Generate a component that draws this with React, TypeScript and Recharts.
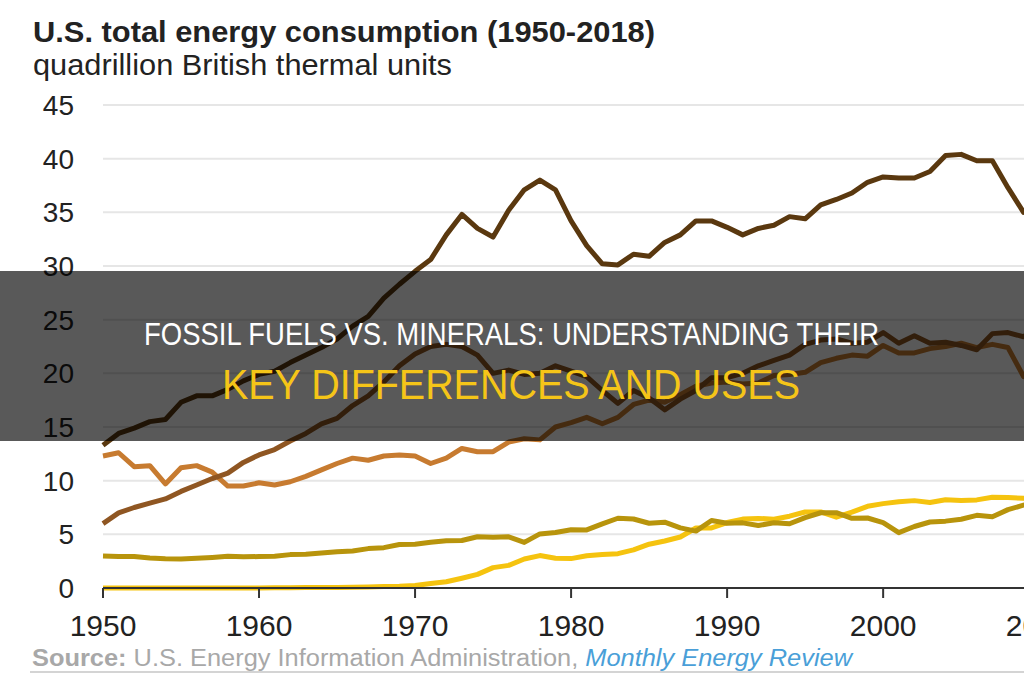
import React from 'react';
import { LineChart, Line, XAxis, YAxis, CartesianGrid } from 'recharts';

const years: number[] = Array.from({ length: 69 }, (_, i) => 1950 + i);

const petroleum = [
  13.3, 14.4, 14.9, 15.5, 15.7, 17.3, 17.9, 17.9, 18.5, 19.3,
  19.9, 20.2, 21.0, 21.7, 22.4, 23.2, 24.4, 25.3, 27.0, 28.3,
  29.5, 30.6, 32.9, 34.8, 33.5, 32.7, 35.2, 37.1, 38.0, 37.1,
  34.2, 31.9, 30.2, 30.1, 31.1, 30.9, 32.2, 32.9, 34.2, 34.2,
  33.6, 32.9, 33.5, 33.8, 34.6, 34.4, 35.7, 36.2, 36.8, 37.8,
  38.3, 38.2, 38.2, 38.8, 40.3, 40.4, 39.8, 39.8, 37.3, 35.0,
  36.0, 35.4, 34.7, 35.1, 35.4, 35.9, 36.2, 36.2, 36.9,
];

const naturalGas = [
  6.0, 7.0, 7.5, 7.9, 8.3, 9.0, 9.6, 10.2, 10.7, 11.7,
  12.4, 12.9, 13.7, 14.4, 15.3, 15.8, 17.0, 17.9, 19.2, 20.7,
  21.8, 22.5, 22.7, 22.5, 21.7, 20.0, 20.3, 19.9, 20.0, 20.7,
  20.2, 19.7, 18.4, 17.2, 18.4, 17.7, 16.6, 17.6, 18.4, 19.6,
  19.6, 20.0, 20.7, 21.2, 21.7, 22.7, 23.1, 23.2, 22.8, 22.9,
  23.8, 22.8, 23.5, 22.8, 22.9, 22.6, 22.2, 23.7, 23.8, 23.4,
  24.6, 24.9, 26.1, 26.8, 27.4, 28.2, 28.4, 28.0, 31.0,
];

const coal = [
  12.3, 12.6, 11.3, 11.4, 9.7, 11.2, 11.4, 10.8, 9.5, 9.5,
  9.8, 9.6, 9.9, 10.4, 11.0, 11.6, 12.1, 11.9, 12.3, 12.4,
  12.3, 11.6, 12.1, 13.0, 12.7, 12.7, 13.6, 13.9, 13.8, 15.0,
  15.4, 15.9, 15.3, 15.9, 17.1, 17.5, 17.3, 18.0, 18.8, 19.1,
  19.2, 19.0, 19.1, 19.8, 19.9, 20.1, 21.0, 21.4, 21.7, 21.6,
  22.6, 21.9, 21.9, 22.3, 22.5, 22.8, 22.4, 22.7, 22.4, 19.7,
  20.8, 19.7, 17.4, 18.0, 18.0, 15.5, 14.2, 13.8, 13.2,
];

const renewables = [
  2.98, 2.94, 2.94, 2.8, 2.73, 2.7, 2.77, 2.85, 2.95, 2.9,
  2.93, 2.95, 3.11, 3.14, 3.27, 3.38, 3.45, 3.67, 3.76, 4.05,
  4.08, 4.26, 4.4, 4.43, 4.77, 4.72, 4.77, 4.25, 5.04, 5.17,
  5.43, 5.41, 5.98, 6.5, 6.43, 6.03, 6.13, 5.6, 5.3, 6.29,
  6.04, 6.07, 5.82, 6.08, 5.99, 6.56, 7.01, 7.02, 6.49, 6.52,
  6.1, 5.16, 5.73, 6.15, 6.23, 6.41, 6.77, 6.64, 7.3, 7.72,
  8.1, 9.1, 8.8, 9.4, 9.7, 9.7, 10.4, 11.2, 11.5,
];

const nuclear = [
  0, 0, 0, 0, 0, 0, 0, 0, 0.002, 0.002,
  0.006, 0.02, 0.026, 0.038, 0.04, 0.043, 0.064, 0.088, 0.142, 0.154,
  0.24, 0.41, 0.58, 0.91, 1.27, 1.9, 2.11, 2.7, 3.02, 2.78,
  2.74, 3.01, 3.13, 3.2, 3.55, 4.08, 4.38, 4.75, 5.59, 5.6,
  6.1, 6.42, 6.48, 6.41, 6.69, 7.08, 7.09, 6.6, 7.07, 7.61,
  7.86, 8.03, 8.14, 7.96, 8.22, 8.16, 8.21, 8.46, 8.43, 8.36,
  8.43, 8.27, 8.06, 8.27, 8.34, 8.34, 8.43, 8.42, 8.44,
];

const xTicks = [1950, 1960, 1970, 1980, 1990, 2000, 2010];
const yTicks = [0, 5, 10, 15, 20, 25, 30, 35, 40, 45];

const titleText = 'U.S. total energy consumption (1950-2018)';
const subtitleText = 'quadrillion British thermal units';
const sourceLabel = 'Source:';
const sourceText = ' U.S. Energy Information Administration, ';
const sourceLink = 'Monthly Energy Review';
const bannerLine1 = 'FOSSIL FUELS VS. MINERALS: UNDERSTANDING THEIR';
const bannerLine2 = 'KEY DIFFERENCES AND USES';

const data = years.map((year, i) => ({
  year,
  petroleum: petroleum[i],
  naturalGas: naturalGas[i],
  coal: coal[i],
  renewables: renewables[i],
  nuclear: nuclear[i],
}));

const FONT = '"Liberation Sans", Arial, sans-serif';
const NARROW = '"Liberation Sans Narrow", "Liberation Sans", Arial, sans-serif';

export default function App() {
  return (
    <div
      style={{
        position: 'fixed',
        left: 0,
        top: 0,
        width: 1024,
        height: 680,
        overflow: 'hidden',
        background: '#ffffff',
        fontFamily: FONT,
      }}
    >
      <div style={{ position: 'absolute', left: 0, top: 0 }}>
        <LineChart
          width={1180}
          height={680}
          data={data}
          margin={{ top: 105, right: 16, bottom: 52, left: 0 }}
        >
          <CartesianGrid horizontal vertical={false} stroke="#e6e6e6" strokeWidth={2} />
          <XAxis
            dataKey="year"
            type="number"
            domain={[1950, 2018]}
            ticks={xTicks}
            height={40}
            tickSize={10}
            tickMargin={17}
            axisLine={{ stroke: '#333333', strokeWidth: 2 }}
            tickLine={{ stroke: '#333333', strokeWidth: 2 }}
            tick={{ fill: '#222222', fontSize: 30, fontFamily: FONT }}
            interval={0}
          />
          <YAxis
            type="number"
            domain={[0, 45]}
            ticks={yTicks}
            width={103}
            axisLine={false}
            tickLine={false}
            tickSize={0}
            tickMargin={29}
            tick={{ fill: '#222222', fontSize: 28, fontFamily: FONT }}
            interval={0}
          />
          <Line type="linear" dataKey="nuclear" stroke="#f5c30f" strokeWidth={5} dot={false} isAnimationActive={false} strokeLinejoin="round" />
          <Line type="linear" dataKey="renewables" stroke="#b8940c" strokeWidth={5} dot={false} isAnimationActive={false} strokeLinejoin="round" />
          <Line type="linear" dataKey="coal" stroke="#c77b30" strokeWidth={5} dot={false} isAnimationActive={false} strokeLinejoin="round" />
          <Line type="linear" dataKey="naturalGas" stroke="#8f5622" strokeWidth={5} dot={false} isAnimationActive={false} strokeLinejoin="round" />
          <Line type="linear" dataKey="petroleum" stroke="#5a380f" strokeWidth={5} dot={false} isAnimationActive={false} strokeLinejoin="round" />
        </LineChart>
      </div>
      <svg
        width={1024}
        height={680}
        style={{ position: 'absolute', left: 0, top: 0, pointerEvents: 'none' }}
      >
        <text x={33} y={42} fontSize={30} fontWeight="bold" fill="#222222" fontFamily={FONT} textLength={622} lengthAdjust="spacingAndGlyphs">
          {titleText}
        </text>
        <text x={33} y={75} fontSize={29} fill="#222222" fontFamily={FONT} textLength={419} lengthAdjust="spacingAndGlyphs">
          {subtitleText}
        </text>
        <text x={32} y={666} fontSize={23} fill="#a8a8a8" fontFamily={FONT} textLength={820} lengthAdjust="spacingAndGlyphs">
          <tspan fontWeight="bold">{sourceLabel}</tspan>
          <tspan>{sourceText}</tspan>
          <tspan fill="#4a9fd8" fontStyle="italic">{sourceLink}</tspan>
        </text>
        <line x1={30} x2={1024} y1={672} y2={672} stroke="#d4d4d4" strokeWidth={2} />
        <rect x={0} y={271} width={1024} height={170} fill="rgba(0,0,0,0.65)" />
        <text x={144} y={345} fontSize={31} fill="#ffffff" fontFamily={NARROW} textLength={735} lengthAdjust="spacingAndGlyphs">
          {bannerLine1}
        </text>
        <text x={222} y={399} fontSize={42} fill="#f5c518" fontFamily={NARROW} textLength={578} lengthAdjust="spacingAndGlyphs">
          {bannerLine2}
        </text>
      </svg>
    </div>
  );
}
